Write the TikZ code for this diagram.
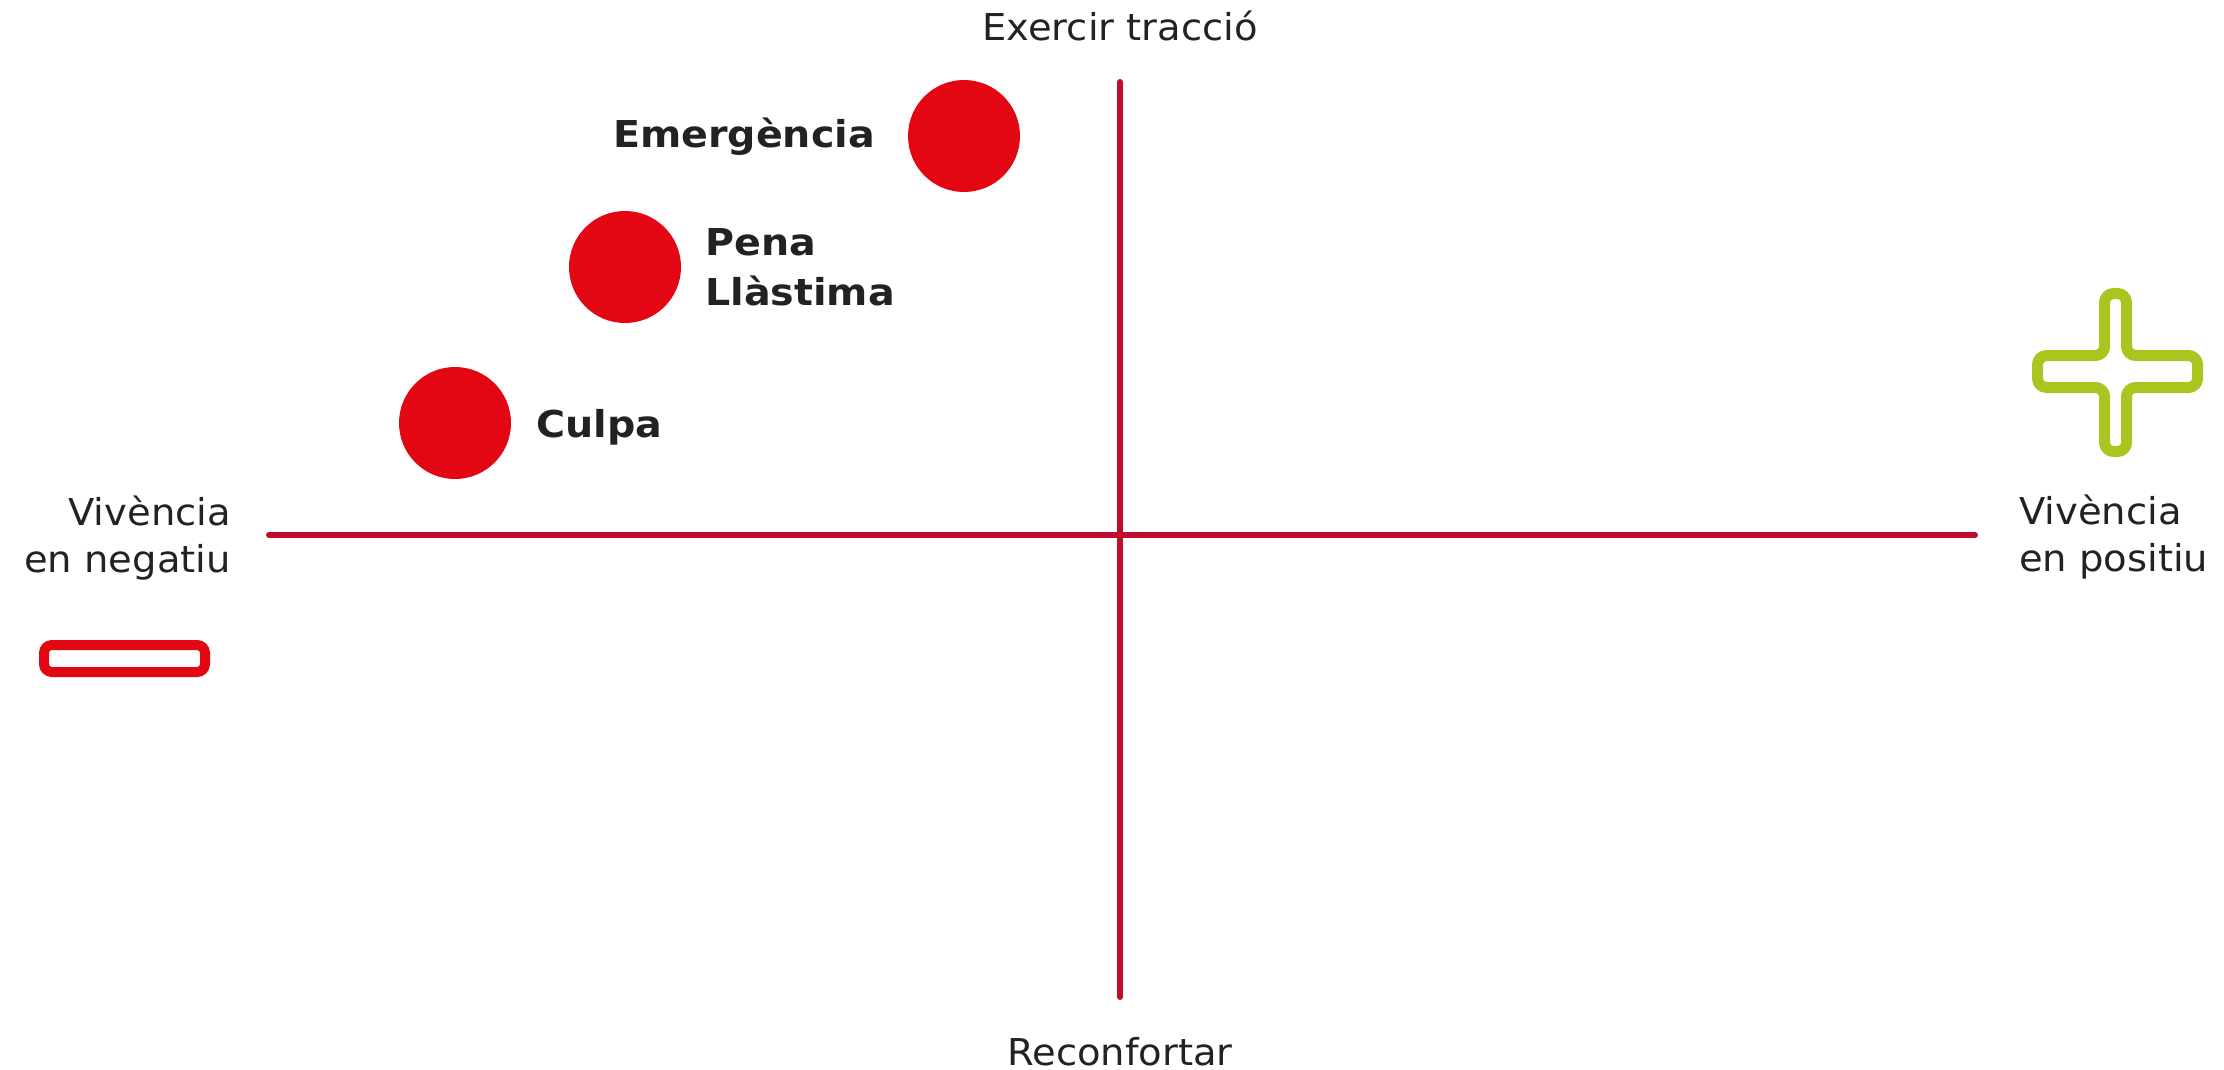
\documentclass[tikz,border=0pt]{standalone}
\usepackage{fontspec}
\setmainfont{DejaVu Sans}[FakeStretch=1.04,BoldFeatures={FakeStretch=1.07}]
\definecolor{axisred}{HTML}{C00D2B}
\definecolor{dotred}{HTML}{E30613}
\definecolor{plusgreen}{HTML}{A9C51F}
\definecolor{txt}{HTML}{222222}
\begin{document}
\begin{tikzpicture}[x=1pt,y=-1pt,
  axis/.style={draw=axisred,line width=6pt,line cap=round},
  dot/.style={circle,fill=dotred,minimum size=112pt,inner sep=0pt},
  lbl/.style={text=txt,font=\fontsize{37}{47}\selectfont,inner sep=0pt},
  blbl/.style={text=txt,font=\fontsize{37}{50}\selectfont\bfseries,inner sep=0pt}]
\useasboundingbox (0,0) rectangle (2224,1070);
% axes
\coordinate (top) at (1120,82);
\coordinate (bot) at (1120,997);
\coordinate (lft) at (269,535);
\coordinate (rgt) at (1975,535);
\draw[axis] (top) -- (bot);
\draw[axis] (lft) -- (rgt);
% axis labels
\node[lbl,anchor=base] (up) at (1120,41) {Exercir tracció};
\node[lbl,anchor=base] (down) at (1120,1065) {Reconfortar};
\node[lbl,anchor=base east,align=right] (neg) at (231,572) {Vivència\\en negatiu};
\node[lbl,anchor=base west,align=left] (pos) at (2019,571) {Vivència\\en positiu};
% dots
\node[dot] (d1) at (964,136) {};
\node[dot] (d2) at (625,267) {};
\node[dot] (d3) at (455,423) {};
\node[blbl,anchor=base east] (t1) at (875,147) {Emergència};
\node[blbl,anchor=base west,align=left] (t2) at (705,305) {Pena\\Llàstima};
\node[blbl,anchor=base west] (t3) at (536,437) {Culpa};
% minus sign
\draw[draw=dotred,line width=10pt,rounded corners=8pt] (44,645) rectangle (205,672);
% plus sign
\draw[draw=plusgreen,line width=11pt,line join=round,rounded corners=9pt]
  (2104.5,293.5) -- (2126.5,293.5) -- (2126.5,355.5) -- (2197.5,355.5) -- (2197.5,387.5) -- (2126.5,387.5)
  -- (2126.5,451.5) -- (2104.5,451.5) -- (2104.5,387.5) -- (2037.5,387.5) -- (2037.5,355.5) -- (2104.5,355.5) -- cycle;
\end{tikzpicture}
\end{document}
